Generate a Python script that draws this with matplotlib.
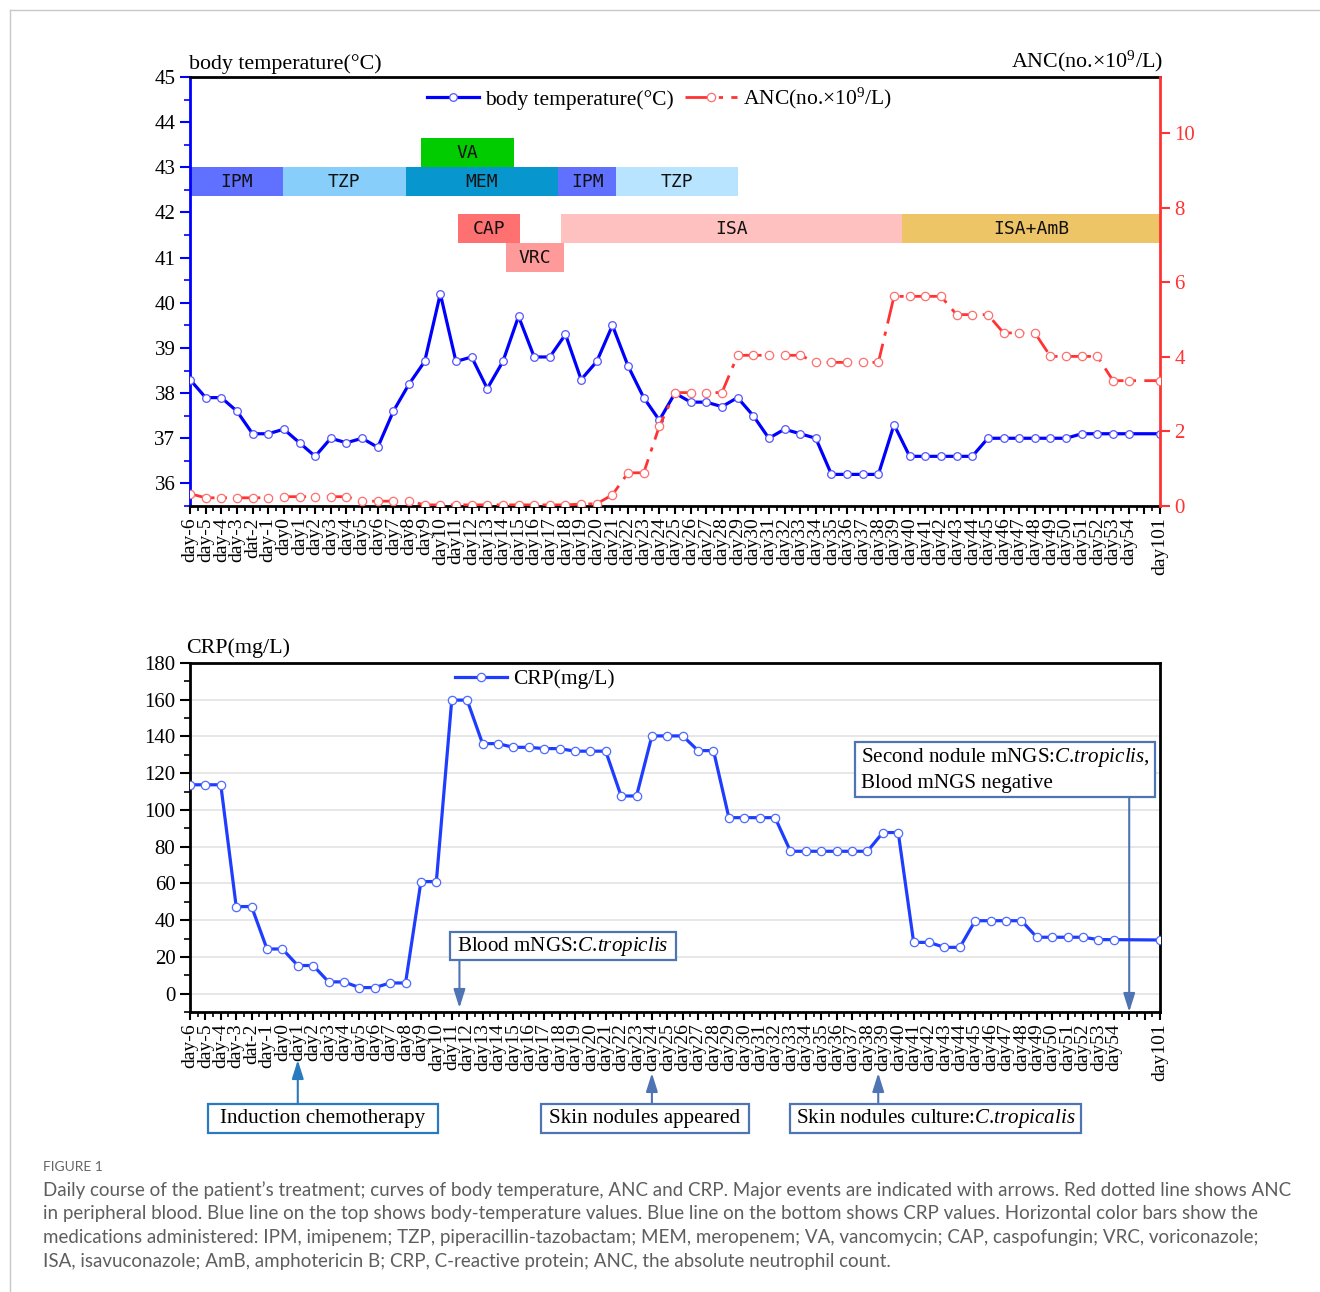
import matplotlib

matplotlib.use("Agg")
import matplotlib.pyplot as plt
from matplotlib.lines import Line2D
from matplotlib.patches import Rectangle
from matplotlib.ticker import MultipleLocator

W, H = 1320, 1292

plt.rcParams["font.family"] = ["Liberation Serif", "DejaVu Serif"]
plt.rcParams["mathtext.fontset"] = "custom"
plt.rcParams["mathtext.rm"] = "Liberation Serif"
plt.rcParams["mathtext.it"] = "Liberation Serif:italic"
plt.rcParams["mathtext.bf"] = "Liberation Serif:bold"

# x categories (day101 sits after blank slots)
DAY_LABELS = ["day-6", "day-5", "day-4", "day-3", "dat-2", "day-1"] + [f"day{i}" for i in range(55)]
LAST_LABEL = "day101"

# body temperature (degC), day-6 .. day54, then day101
TEMP = [38.3, 37.9, 37.9, 37.6, 37.1, 37.1, 37.2,
        36.9, 36.6, 37.0, 36.9, 37.0, 36.8, 37.6, 38.2, 38.7, 40.2,
        38.7, 38.8, 38.1, 38.7, 39.7, 38.8, 38.8, 39.3, 38.3, 38.7,
        39.5, 38.6, 37.9, 37.4, 38.0, 37.8, 37.8, 37.7, 37.9, 37.5,
        37.0, 37.2, 37.1, 37.0, 36.2, 36.2, 36.2, 36.2, 37.3, 36.6,
        36.6, 36.6, 36.6, 36.6, 37.0, 37.0, 37.0, 37.0, 37.0, 37.0,
        37.1, 37.1, 37.1, 37.1]
TEMP_LAST = 37.1

# ANC (x10^9/L)
ANC = [0.33, 0.22, 0.22, 0.22, 0.22, 0.22,
       0.25, 0.25, 0.25, 0.25, 0.25,
       0.13, 0.13, 0.13, 0.13,
       0.03, 0.03, 0.03, 0.03, 0.03, 0.03, 0.03, 0.03, 0.03, 0.03,
       0.05, 0.06, 0.30, 0.89, 0.89, 2.14,
       3.04, 3.04, 3.04, 3.04,
       4.04, 4.04, 4.04, 4.04, 4.04,
       3.85, 3.85, 3.85, 3.85, 3.85,
       5.62, 5.62, 5.62, 5.62,
       5.13, 5.13, 5.13,
       4.64, 4.64, 4.64,
       4.01, 4.01, 4.01, 4.01,
       3.36, 3.36]
ANC_LAST = 3.36

# CRP (mg/L)
CRP = [113.7, 113.7, 113.7, 47.4, 47.4, 24.3, 24.3, 15.3, 15.3, 6.4, 6.4,
       3.3, 3.3, 5.8, 5.8, 61.0, 61.0, 159.8, 159.8, 136.1, 136.1,
       134.1, 134.1, 133.4, 133.4, 132.0, 132.0, 132.0, 107.6, 107.6,
       140.3, 140.3, 140.3, 132.3, 132.3, 95.8, 95.8, 95.8, 95.8,
       77.5, 77.5, 77.5, 77.5, 77.5, 77.5, 87.7, 87.7, 27.9, 27.9,
       25.2, 25.2, 39.7, 39.7, 39.7, 39.7, 30.7, 30.7, 30.7, 30.7,
       29.4, 29.4]
CRP_LAST = 29.2

# medication bars (x in category index units)
MED_NAMES = ["IPM", "TZP", "MEM", "IPM", "TZP", "VA", "CAP", "VRC", "ISA", "ISA+AmB"]
MED_START = [0, 5.96, 13.78, 23.5, 27.26, 14.78, 17.1, 20.2, 23.7, 45.5]
MED_END = [5.96, 13.78, 23.5, 27.26, 35.0, 20.7, 21.1, 23.9, 45.5, 62]
MED_ROW = [1, 1, 1, 1, 1, 0, 2, 3, 2, 2]
MED_COLORS = ["#6070FF", "#87CEFA", "#0797CE", "#6070FF", "#B8E4FF",
              "#00CC00", "#FF7070", "#FF9A9A", "#FFC0C0", "#EDC566"]
ROW_BOTTOM = [43.0, 42.36, 41.32, 40.68]
ROW_HEIGHT = 0.64

BLUE = "#0000FF"
RED = "#FF3333"
BOX = "#4F74B4"
BOX2 = "#2A7AC0"


def fx(px):
    return px / W


def fy(py):
    return 1 - py / H


def setup_xaxis(ax, n_slots):
    labels = DAY_LABELS + [""] * (n_slots - len(DAY_LABELS) - 1) + [LAST_LABEL]
    ax.set_xlim(0, n_slots - 1)
    ax.set_xticks(range(n_slots))
    ax.set_xticklabels(labels, rotation=90, fontsize=14, va="top", ha="center")
    ax.xaxis.set_minor_locator(MultipleLocator(0.5))
    ax.tick_params(axis="x", which="major", length=6, width=1.5, direction="out", pad=2)
    ax.tick_params(axis="x", which="minor", length=3.5, width=1.2, direction="out")


fig = plt.figure(figsize=(W / 100, H / 100), dpi=100)
fig.patch.set_facecolor("white")

# ---------------- top chart ----------------
ax1 = fig.add_axes([fx(190), fy(506), fx(1160) - fx(190), fy(77) - fy(506)])
x_top = list(range(len(TEMP))) + [62]
setup_xaxis(ax1, 63)
ax1.set_ylim(35.5, 45)
ax1.set_yticks(range(36, 46))
ax1.yaxis.set_minor_locator(MultipleLocator(0.5))
ax1.tick_params(axis="y", which="major", length=7, width=1.5, color=BLUE,
                labelcolor="black", labelsize=15, direction="out")
ax1.tick_params(axis="y", which="minor", length=4, width=1.2, color=BLUE, direction="out")
for side in ["top", "bottom"]:
    ax1.spines[side].set_linewidth(2)
ax1.spines["left"].set_color(BLUE)
ax1.spines["left"].set_linewidth(2)
ax1.spines["right"].set_visible(False)

for name, s, e, row, col in zip(MED_NAMES, MED_START, MED_END, MED_ROW, MED_COLORS):
    y0 = ROW_BOTTOM[row]
    ax1.add_patch(Rectangle((s, y0), e - s, ROW_HEIGHT, facecolor=col, edgecolor="none", zorder=1))
    ax1.text((s + e) / 2, y0 + ROW_HEIGHT / 2, name, ha="center", va="center",
             fontsize=13, family="DejaVu Sans Mono", color="#111111", zorder=2)

temp_line, = ax1.plot(x_top, TEMP + [TEMP_LAST], color=BLUE, lw=2.3, marker="o", ms=5.5,
                      mfc="white", mec="#5555FF", mew=0.9, zorder=4)

ax1b = ax1.twinx()
ax1b.set_ylim(0, 11.5)
ax1b.set_yticks([0, 2, 4, 6, 8, 10])
ax1b.tick_params(axis="y", length=7, width=1.5, color=RED, labelcolor=RED,
                 labelsize=15, direction="out")
for side in ["left", "top", "bottom"]:
    ax1b.spines[side].set_visible(False)
ax1b.spines["right"].set_color(RED)
ax1b.spines["right"].set_linewidth(2)
anc_line, = ax1b.plot(x_top, ANC + [ANC_LAST], color=RED, lw=2, dashes=[9, 3, 1.5, 3],
                      marker="o", ms=6, mfc="white", mec="#FF6F6F", mew=0.9, zorder=3)
ax1b.legend([temp_line, anc_line], ["body temperature(°C)", "ANC(no.×10$^{\\mathrm{9}}$/L)"],
            loc="center", bbox_to_anchor=(0.484, 0.949), ncol=2, frameon=False,
            fontsize=15.5, handlelength=2.4, handletextpad=0.3, columnspacing=0.5,
            numpoints=1)

fig.text(fx(189), fy(64), "body temperature(°C)", ha="left", va="center", fontsize=15.8)
fig.text(fx(1163), fy(61), "ANC(no.×10$^{\\mathrm{9}}$/L)", ha="right", va="center", fontsize=15.8)

# ---------------- bottom chart ----------------
ax2 = fig.add_axes([fx(190), fy(1012), fx(1160) - fx(190), fy(663) - fy(1012)])
x_bot = list(range(len(CRP))) + [63]
setup_xaxis(ax2, 64)
ax2.set_ylim(-10, 180)
ax2.set_yticks(range(0, 181, 20))
ax2.yaxis.set_minor_locator(MultipleLocator(10))
ax2.tick_params(axis="y", which="major", length=7, width=1.5, labelsize=15, direction="out")
ax2.tick_params(axis="y", which="minor", length=4, width=1.2, direction="out")
ax2.grid(axis="y", which="major", color="#E3E3E3", lw=1.2, zorder=0)
ax2.set_axisbelow(True)
for side in ax2.spines.values():
    side.set_linewidth(2)
crp_line, = ax2.plot(x_bot, CRP + [CRP_LAST], color="#1F3DFF", lw=2.3, marker="o", ms=6,
                     mfc="white", mec="#4F6BFF", mew=0.9, zorder=4)
ax2.legend([crp_line], ["CRP(mg/L)"], loc="center", bbox_to_anchor=(0.356, 0.954),
           frameon=False, fontsize=15.5, handlelength=2.4, handletextpad=0.3, numpoints=1)
fig.text(fx(186), fy(648), "CRP(mg/L)", ha="left", va="center", fontsize=15.8)

# ---------------- event annotations ----------------
EVENT_TEXT = ["Blood mNGS:$\\mathit{C}$.$\\mathit{tropiclis}$",
              "Second nodule mNGS:$\\mathit{C}$.$\\mathit{tropiclis}$,\nBlood mNGS negative",
              "Induction chemotherapy",
              "Skin nodules appeared",
              "Skin nodules culture:$\\mathit{C}$.$\\mathit{tropicalis}$"]
EVENT_X = [17.5, 61, 7, 30, 44.7]
EVENT_BOX = [(450, 932, 676, 960), (855, 742, 1155, 797), (208, 1104, 438, 1133),
             (541, 1104, 749, 1133), (790, 1104, 1081, 1133)]
EVENT_ARROW_Y = [(960, 1008), (797, 1012), (1104, 1060), (1104, 1073), (1104, 1073)]
EVENT_COLOR = [BOX, BOX, BOX2, BOX, BOX]

for text, xi, (l, t, r, b), (y_from, y_to), col in zip(
        EVENT_TEXT, EVENT_X, EVENT_BOX, EVENT_ARROW_Y, EVENT_COLOR):
    fig.add_artist(Rectangle((fx(l), fy(b)), fx(r) - fx(l), fy(t) - fy(b),
                             transform=fig.transFigure, facecolor="white",
                             edgecolor=col, lw=1.6, zorder=5))
    if "\n" in text:
        fig.text(fx(l + 6), fy((t + b) / 2), text, ha="left", va="center",
                 fontsize=15.1, linespacing=1.35, zorder=6)
    else:
        fig.text(fx((l + r) / 2), fy((t + b) / 2), text, ha="center", va="center",
                 fontsize=15.1, zorder=6)
    ax2.annotate("", xy=(xi, fy(y_to)), xytext=(xi, fy(y_from)),
                 xycoords=("data", "figure fraction"), textcoords=("data", "figure fraction"),
                 annotation_clip=False,
                 arrowprops=dict(arrowstyle="-|>,head_length=0.7,head_width=0.22",
                                 color=col, lw=1.5, shrinkA=0, shrinkB=0,
                                 mutation_scale=16))

# ---------------- caption ----------------
fig.add_artist(Line2D([fx(10), 1], [fy(10), fy(10)], transform=fig.transFigure,
                      color="#C8C8C8", lw=1))
fig.add_artist(Line2D([fx(10), fx(10)], [fy(10), 0], transform=fig.transFigure,
                      color="#C8C8C8", lw=1))

CAPTION = [
    "Daily course of the patient\u2019s treatment; curves of body temperature, ANC and CRP. "
    "Major events are indicated with arrows. Red dotted line shows ANC",
    "in peripheral blood. Blue line on the top shows body-temperature values. "
    "Blue line on the bottom shows CRP values. Horizontal color bars show the",
    "medications administered: IPM, imipenem; TZP, piperacillin-tazobactam; MEM, meropenem; "
    "VA, vancomycin; CAP, caspofungin; VRC, voriconazole;",
    "ISA, isavuconazole; AmB, amphotericin B; CRP, C-reactive protein; "
    "ANC, the absolute neutrophil count.",
]
cap_font = ["Lato", "DejaVu Sans"]
fig.text(fx(43), fy(1167), "FIGURE 1", ha="left", va="center", fontsize=10,
         color="#666666", family=cap_font)
for i, line in enumerate(CAPTION):
    fig.text(fx(43), fy(1190 + 24 * i), line, ha="left", va="center", fontsize=13.5,
             color="#5E5E5E", family=cap_font)

fig.savefig("out.png", dpi=100)
